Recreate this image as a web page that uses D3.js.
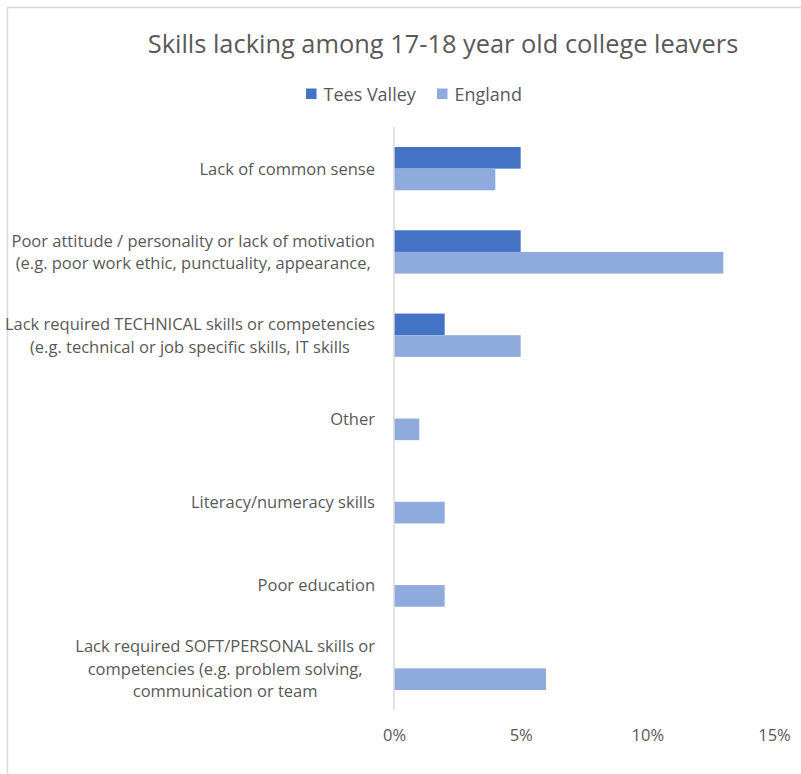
<!DOCTYPE html>
<html>
<head>
<meta charset="utf-8">
<script src="https://cdn.jsdelivr.net/npm/d3@7"></script>
<style>
  html, body { margin: 0; padding: 0; background: #fff; }
  svg { display: block; }
</style>
</head>
<body>
<svg id="chart" width="801" height="774"></svg>
<script>
// Survey categories (top to bottom), each split into wrapped lines
const categories = [
  ["Lack of common sense"],
  ["Poor attitude / personality or lack of motivation", "(e.g. poor work ethic, punctuality, appearance,"],
  ["Lack required TECHNICAL skills or competencies", "(e.g. technical or job specific skills, IT skills"],
  ["Other"],
  ["Literacy/numeracy skills"],
  ["Poor education"],
  ["Lack required SOFT/PERSONAL skills or", "competencies (e.g. problem solving,", "communication or team"]
];
const seriesNames = ["Tees Valley", "England"];
const teesValley = [5, 5, 2, 0, 0, 0, 0];
const england = [4, 13, 5, 1, 2, 2, 6];
const xTicks = [0, 5, 10, 15];

const colors = { "Tees Valley": "#4472C4", "England": "#8FAADC" };
const textColor = "#595959";
const font = "'Open Sans', Lato, sans-serif";

const svg = d3.select("#chart");

// outer chart frame
svg.append("rect")
  .attr("x", 7.5).attr("y", 7.5)
  .attr("width", 801).attr("height", 774)
  .attr("fill", "none").attr("stroke", "#D9D9D9").attr("stroke-width", 1.5);

const plot = { left: 394, right: 774, top: 127, bottom: 710 };

const x = d3.scaleLinear().domain([0, 15]).range([plot.left, plot.right]);
const catIdx = d3.range(categories.length);
const y = d3.scaleBand().domain(catIdx).range([plot.top, plot.bottom]).paddingInner(0.48).paddingOuter(0.24);
const ySub = d3.scaleBand().domain(seriesNames).range([0, y.bandwidth()]);

// title
svg.append("text")
  .attr("x", 443).attr("y", 53)
  .attr("text-anchor", "middle")
  .attr("font-family", font).attr("font-size", 25.4)
  .attr("fill", textColor)
  .text("Skills lacking among 17-18 year old college leavers");

// legend
const legendItems = [
  { name: "Tees Valley", x: 306 },
  { name: "England", x: 437 }
];
const lg = svg.append("g");
legendItems.forEach(it => {
  lg.append("rect").attr("x", it.x).attr("y", 88.5).attr("width", 10.5).attr("height", 10.5)
    .attr("fill", colors[it.name]);
  lg.append("text").attr("x", it.x + 17.5).attr("y", 100.5)
    .attr("font-family", font).attr("font-size", 18).attr("fill", textColor)
    .text(it.name);
});

// bars
const rows = catIdx.map(i => ({ i, values: [
  { s: "Tees Valley", v: teesValley[i] },
  { s: "England", v: england[i] }
]}));

const groups = svg.append("g").selectAll("g").data(rows).join("g")
  .attr("transform", d => `translate(0,${y(d.i)})`);
groups.selectAll("rect").data(d => d.values.filter(v => v.v > 0)).join("rect")
  .attr("x", x(0))
  .attr("y", d => ySub(d.s))
  .attr("width", d => x(d.v) - x(0))
  .attr("height", ySub.bandwidth())
  .attr("fill", d => colors[d.s]);

// vertical category axis line
svg.append("line")
  .attr("x1", x(0)).attr("x2", x(0))
  .attr("y1", plot.top).attr("y2", plot.bottom)
  .attr("stroke", "#D9D9D9").attr("stroke-width", 1.5);

// x axis tick labels
const xAxis = d3.axisBottom(x).tickValues(xTicks).tickFormat(d => d + "%").tickSize(0).tickPadding(0);
const xg = svg.append("g").attr("transform", `translate(0,${plot.bottom + 15.5})`).call(xAxis);
xg.select(".domain").remove();
xg.selectAll("text")
  .attr("font-family", font).attr("font-size", 16.5).attr("fill", textColor)
  .attr("dy", "0.95em");

// category labels: each block centred, widest line ending at the label edge
const labelRight = 375;
const lineH = 22.5;
const lblG = svg.append("g");
categories.forEach((lines, i) => {
  const cy = y(i) + y.bandwidth() / 2 + 0.5;
  const t = lblG.append("text")
    .attr("font-family", font).attr("font-size", 16.5).attr("fill", textColor)
    .attr("text-anchor", "middle");
  lines.forEach((ln, k) => {
    t.append("tspan").attr("y", cy + (k - (lines.length - 1) / 2) * lineH).attr("dy", "0.35em").text(ln);
  });
  let maxW = 0;
  t.selectAll("tspan").each(function () { maxW = Math.max(maxW, this.getComputedTextLength()); });
  t.selectAll("tspan").attr("x", labelRight - maxW / 2);
});
</script>
</body>
</html>
